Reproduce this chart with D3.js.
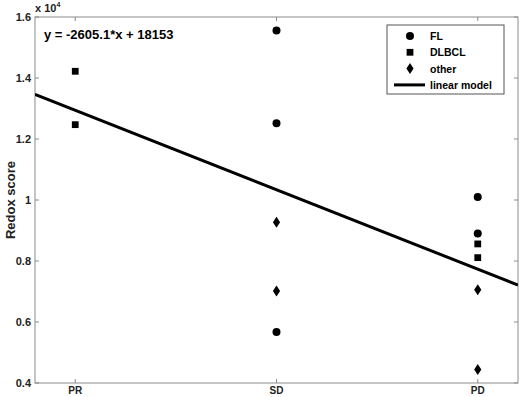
<!DOCTYPE html>
<html>
<head>
<meta charset="utf-8">
<script src="https://cdn.jsdelivr.net/npm/d3@7"></script>
<style>
  html, body { margin: 0; padding: 0; background: #fff; }
  svg { display: block; font-family: Arial, "Liberation Sans", Helvetica, sans-serif; }
</style>
</head>
<body>
<svg id="chart"></svg>
<script>
// categories are coded 2, 3, 4 in the fitted model
const categories = ['PR', 'SD', 'PD'];
const categoryCodes = [2, 3, 4];
const yTicks = [4000, 6000, 8000, 10000, 12000, 14000, 16000];
const yTickLabels = ['0.4', '0.6', '0.8', '1', '1.2', '1.4', '1.6'];

const flPoints = [
    { cat: 'SD', value: 15560 }, { cat: 'SD', value: 12520 }, { cat: 'SD', value: 5670 },
    { cat: 'PD', value: 10100 }, { cat: 'PD', value: 8900 }
];
const dlbclPoints = [
    { cat: 'PR', value: 14220 }, { cat: 'PR', value: 12470 },
    { cat: 'PD', value: 8560 }, { cat: 'PD', value: 8110 }
];
const otherPoints = [
    { cat: 'SD', value: 9270 }, { cat: 'SD', value: 7020 },
    { cat: 'PD', value: 7060 }, { cat: 'PD', value: 4440 }
];
const slope = -2605.1;
const intercept = 18153;

const W = 520, H = 397;
const margin = { top: 17, right: 2, bottom: 14, left: 35 };
const width = W - margin.left - margin.right;
const height = H - margin.top - margin.bottom;

const svg = d3.select('#chart').attr('width', W).attr('height', H);
const g = svg.append('g').attr('transform', `translate(${margin.left},${margin.top})`);

const codeOf = c => categoryCodes[categories.indexOf(c)];
const x = d3.scaleLinear().domain([1.8, 4.2]).range([0, width]);
const y = d3.scaleLinear().domain([4000, 16000]).range([height, 0]);

const axisColor = '#8c8c8c';
const textColor = '#222';

// Box
g.append('rect').attr('width', width).attr('height', height)
    .attr('fill', 'none').attr('stroke', axisColor).attr('stroke-width', 1);

// Ticks (inward) on all four sides
const tickLen = 4;
categoryCodes.forEach(c => {
    g.append('line').attr('x1', x(c)).attr('x2', x(c)).attr('y1', height).attr('y2', height - tickLen).attr('stroke', axisColor);
    g.append('line').attr('x1', x(c)).attr('x2', x(c)).attr('y1', 0).attr('y2', tickLen).attr('stroke', axisColor);
});
yTicks.forEach(t => {
    g.append('line').attr('x1', 0).attr('x2', tickLen).attr('y1', y(t)).attr('y2', y(t)).attr('stroke', axisColor);
    g.append('line').attr('x1', width).attr('x2', width - tickLen).attr('y1', y(t)).attr('y2', y(t)).attr('stroke', axisColor);
});

// Tick labels
g.selectAll('.xlab').data(categories).enter().append('text')
    .attr('x', d => x(codeOf(d))).attr('y', height + 11)
    .attr('text-anchor', 'middle').attr('font-size', '10px').attr('font-weight', 'bold').attr('fill', textColor)
    .text(d => d);

g.selectAll('.ylab').data(yTicks).enter().append('text')
    .attr('x', -4).attr('y', d => y(d) + 4)
    .attr('text-anchor', 'end').attr('font-size', '11px').attr('font-weight', 'bold').attr('fill', textColor)
    .text((d, i) => yTickLabels[i]);

// Exponent label
const expo = svg.append('text').attr('x', margin.left).attr('y', 12)
    .attr('font-size', '11px').attr('font-weight', 'bold').attr('fill', textColor);
expo.append('tspan').text('x 10');
expo.append('tspan').attr('font-size', '7px').attr('dy', -5).text('4');

// Y axis label
svg.append('text')
    .attr('transform', `translate(15,${margin.top + height / 2}) rotate(-90)`)
    .attr('text-anchor', 'middle').attr('font-size', '13px').attr('font-weight', 'bold').attr('fill', textColor)
    .text('Redox score');

// Regression line, clipped to the axes
svg.append('clipPath').attr('id', 'clip').append('rect').attr('width', width).attr('height', height);
const lineData = x.domain().map(v => ({ x: v, y: slope * v + intercept }));
g.append('path').datum(lineData)
    .attr('clip-path', 'url(#clip)')
    .attr('fill', 'none').attr('stroke', '#000').attr('stroke-width', 3)
    .attr('d', d3.line().x(d => x(d.x)).y(d => y(d.y)));

// Markers
const circle = d3.symbol().type(d3.symbolCircle).size(50);
const square = d3.symbol().type(d3.symbolSquare).size(46);
const diamond = () => 'M0,-5.5L3.6,0L0,5.5L-3.6,0Z';

g.selectAll('.fl').data(flPoints).enter().append('path')
    .attr('transform', d => `translate(${x(codeOf(d.cat))},${y(d.value)})`)
    .attr('d', circle).attr('fill', '#000');
g.selectAll('.dl').data(dlbclPoints).enter().append('path')
    .attr('transform', d => `translate(${x(codeOf(d.cat))},${y(d.value)})`)
    .attr('d', square).attr('fill', '#000');
g.selectAll('.ot').data(otherPoints).enter().append('path')
    .attr('transform', d => `translate(${x(codeOf(d.cat))},${y(d.value)})`)
    .attr('d', diamond).attr('fill', '#000');

// Equation
g.append('text').attr('x', 9).attr('y', 22)
    .attr('font-size', '13px').attr('font-weight', 'bold').attr('fill', '#000')
    .text(`y = ${slope}*x + ${intercept}`);

// Legend
const legend = svg.append('g').attr('transform', 'translate(387,25)');
legend.append('rect').attr('width', 117).attr('height', 69)
    .attr('fill', '#fff').attr('stroke', '#555').attr('stroke-width', 1);
const legendItems = [
    { label: 'FL', sym: circle },
    { label: 'DLBCL', sym: square },
    { label: 'other', sym: diamond },
    { label: 'linear model', sym: null }
];
legendItems.forEach((d, i) => {
    const ly = 11 + i * 16.3;
    if (d.sym) {
        legend.append('path').attr('transform', `translate(23,${ly})`).attr('d', d.sym).attr('fill', '#000');
    } else {
        legend.append('line').attr('x1', 7).attr('x2', 38).attr('y1', ly).attr('y2', ly)
            .attr('stroke', '#000').attr('stroke-width', 3);
    }
    legend.append('text').attr('x', 43).attr('y', ly + 4)
        .attr('font-size', '10.5px').attr('font-weight', 'bold').attr('fill', '#000')
        .text(d.label);
});
</script>
</body>
</html>
